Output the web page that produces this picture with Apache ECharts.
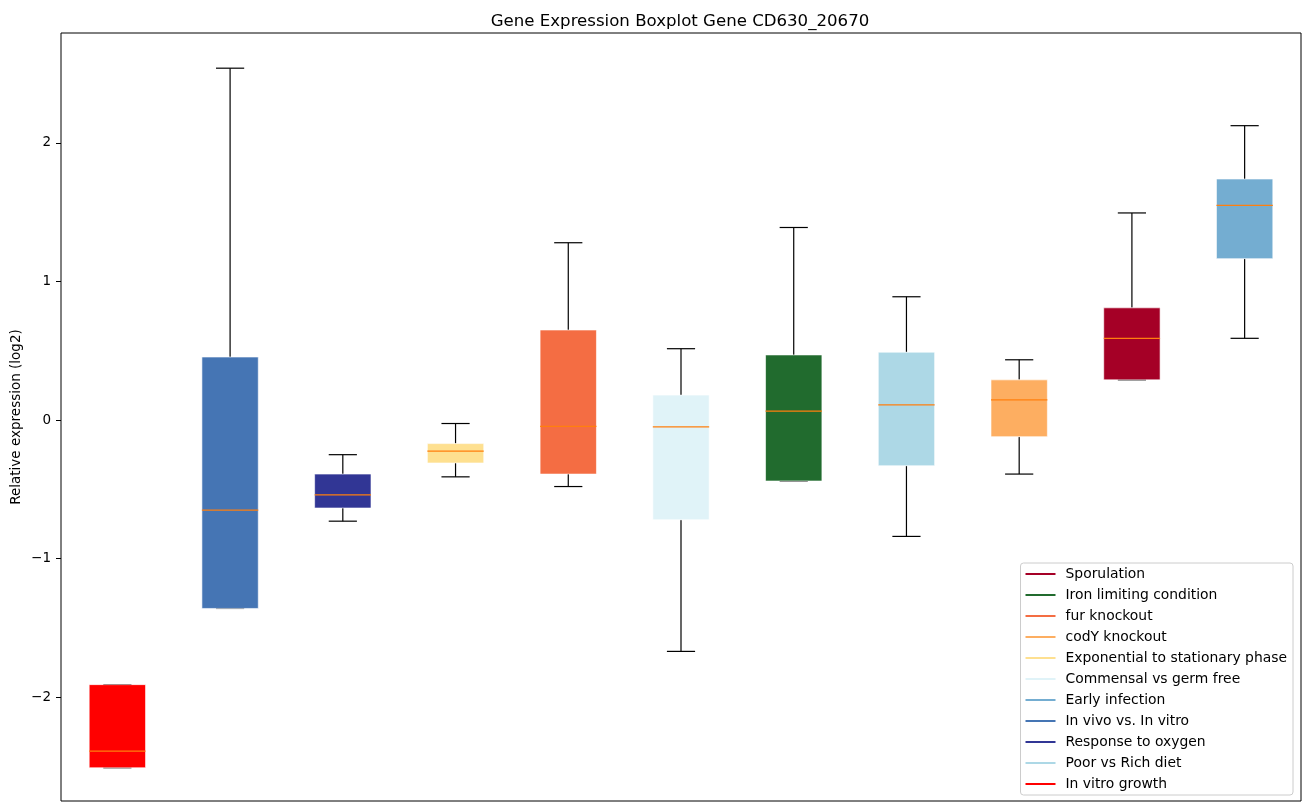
<!DOCTYPE html>
<html>
<head>
<meta charset="utf-8">
<script src="https://cdn.jsdelivr.net/npm/echarts@6/dist/echarts.min.js"></script>
<style>html,body{margin:0;padding:0;background:#fff}#c{width:1309px;height:812px}</style>
</head>
<body>
<div id="c"></div>
<script>
const categories = ['In vitro growth','In vivo vs. In vitro','Response to oxygen','Exponential to stationary phase','fur knockout','Commensal vs germ free','Iron limiting condition','Poor vs Rich diet','codY knockout','Sporulation','Early infection'];
const boxColors = ['#ff0000','#4575b4','#313695','#fee090','#f46d43','#e0f3f8','#216b2e','#add8e6','#fdae61','#a50026','#74add1'];
const mins    = [-2.51, -1.36, -0.73, -0.41, -0.48, -1.67, -0.44, -0.84, -0.39, 0.29, 0.59];
const q1s     = [-2.51, -1.36, -0.635, -0.31, -0.39, -0.72, -0.44, -0.33, -0.12, 0.29, 1.165];
const medians = [-2.39, -0.65, -0.54, -0.225, -0.045, -0.05, 0.065, 0.11, 0.145, 0.59, 1.55];
const q3s     = [-1.91, 0.455, -0.39, -0.17, 0.65, 0.18, 0.47, 0.49, 0.29, 0.81, 1.74];
const maxs    = [-1.91, 2.54, -0.25, -0.025, 1.28, 0.515, 1.39, 0.89, 0.435, 1.495, 2.125];
const legendOrder = ['Sporulation','Iron limiting condition','fur knockout','codY knockout','Exponential to stationary phase','Commensal vs germ free','Early infection','In vivo vs. In vitro','Response to oxygen','Poor vs Rich diet','In vitro growth'];
const yTicks = [-2, -1, 0, 1, 2];

const chart = echarts.init(document.getElementById('c'), null, {renderer: 'canvas'});
const FONT = 'DejaVu Sans';

function renderItem(params, api) {
  const x = api.value(0);
  const w = api.size([1, 0])[0] * 0.5;
  const cap = w * 0.5;
  const cx = api.coord([x, 0])[0];
  const yMin = api.coord([x, api.value(1)])[1];
  const yQ1 = api.coord([x, api.value(2)])[1];
  const yMed = api.coord([x, api.value(3)])[1];
  const yQ3 = api.coord([x, api.value(4)])[1];
  const yMax = api.coord([x, api.value(5)])[1];
  const color = api.visual('color');
  const ls = {stroke: '#000', lineWidth: 1.2};
  return {
    type: 'group',
    children: [
      {type: 'line', shape: {x1: cx, y1: yQ3, x2: cx, y2: yMax}, style: ls},
      {type: 'line', shape: {x1: cx, y1: yQ1, x2: cx, y2: yMin}, style: ls},
      {type: 'line', shape: {x1: cx - cap / 2, y1: yMax, x2: cx + cap / 2, y2: yMax}, style: ls},
      {type: 'line', shape: {x1: cx - cap / 2, y1: yMin, x2: cx + cap / 2, y2: yMin}, style: ls},
      {type: 'rect', shape: {x: cx - w / 2, y: yQ3, width: w, height: yQ1 - yQ3}, style: {fill: color, stroke: 'rgba(255,255,255,0.6)', lineWidth: 1}},
      {type: 'line', shape: {x1: cx - w / 2, y1: yMed, x2: cx + w / 2, y2: yMed}, style: {stroke: '#ff7f0e', lineWidth: 1.3}}
    ]
  };
}

const series = categories.map((name, i) => ({
  type: 'custom',
  name: name,
  renderItem: renderItem,
  itemStyle: {color: boxColors[i]},
  encode: {x: 0, y: [1, 2, 3, 4, 5]},
  data: [[i, mins[i], q1s[i], medians[i], q3s[i], maxs[i]]],
  silent: true,
  animation: false
}));

const option = {
  animation: false,
  title: {
    text: 'Gene Expression Boxplot Gene CD630_20670',
    left: 675,
    textAlign: 'center',
    top: 8,
    textStyle: {fontFamily: FONT, fontSize: 16.6, fontWeight: 'normal', color: '#000'}
  },
  legend: {
    data: legendOrder.map(n => ({name: n, icon: 'rect'})),
    orient: 'vertical',
    right: 16,
    bottom: 17,
    itemWidth: 30,
    itemHeight: 2,
    itemGap: 7,
    padding: [4, 6, 4, 5],
    borderColor: '#cccccc',
    borderWidth: 1,
    borderRadius: 3,
    backgroundColor: 'rgba(255,255,255,0.8)',
    textStyle: {fontFamily: FONT, fontSize: 13.9, color: '#000', lineHeight: 14, padding: [0, 0, 0, 5]},
    selectedMode: false
  },
  grid: {
    left: 61, right: 8, top: 33, bottom: 11,
    show: true, borderColor: '#000', borderWidth: 1, containLabel: false,
    outerBoundsMode: 'none'
  },
  xAxis: {
    type: 'category',
    data: categories,
    boundaryGap: true,
    axisLabel: {show: false},
    axisTick: {show: false},
    axisLine: {show: false},
    splitLine: {show: false}
  },
  yAxis: {
    type: 'value',
    min: -2.75,
    max: 2.794,
    name: 'Relative expression (log2)',
    nameLocation: 'middle',
    nameGap: 38,
    nameMoveOverlap: false,
    nameTextStyle: {fontFamily: FONT, fontSize: 13.5, color: '#000'},
    axisLine: {show: false},
    splitLine: {show: false},
    axisTick: {show: true, inside: false, length: 5, customValues: yTicks, lineStyle: {color: '#000'}},
    axisLabel: {
      customValues: yTicks,
      margin: 10,
      fontFamily: FONT, fontSize: 13.5, color: '#000',
      formatter: v => String(v).replace('-', '\u2212')
    }
  },
  series: series
};
chart.setOption(option);
</script>
</body>
</html>
